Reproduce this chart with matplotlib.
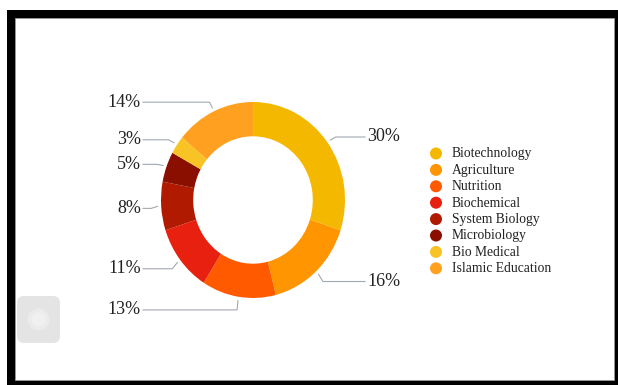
import numpy as np
import matplotlib
matplotlib.use("Agg")
import matplotlib.pyplot as plt
from matplotlib.patches import Rectangle, FancyBboxPatch, Circle

categories = ["Biotechnology", "Agriculture", "Nutrition", "Biochemical",
              "System Biology", "Microbiology", "Bio Medical", "Islamic Education"]
values = [30, 16, 13, 11, 8, 5, 3, 14]
labels = [f"{v}%" for v in values]
colors = ["#F5B800", "#FF9500", "#FF5A00", "#E8200F",
          "#B01A00", "#8B0F00", "#F7C325", "#FFA020"]

W, H = 618, 385
fig = plt.figure(figsize=(W / 100, H / 100), dpi=100)
fig.patch.set_facecolor("white")

# overlay axes in pixel coordinates
ov = fig.add_axes([0, 0, 1, 1])
ov.set_xlim(0, W)
ov.set_ylim(H, 0)
ov.axis("off")

# frame
ov.add_patch(Rectangle((7, 10), W - 7, H - 10, facecolor="black", edgecolor="none", zorder=0))
ov.add_patch(Rectangle((15, 18), 614 - 15, 380 - 18, facecolor="white",
                       edgecolor="#9a9a9a", linewidth=0.6, zorder=0.5))

# gray rounded button
ov.add_patch(FancyBboxPatch((17, 296), 43, 47, boxstyle="round,pad=0,rounding_size=7",
                            facecolor="#E4E4E4", edgecolor="none", zorder=1))
ov.add_patch(Circle((38.5, 319.5), 11, facecolor="#EBEBEB", edgecolor="none", zorder=1.1))
ov.add_patch(Circle((38.5, 319.5), 7, facecolor="#F0F0F0", edgecolor="none", zorder=1.2))

# pie axes
cx, cy, rx, ry = 253, 200, 92, 98
pax = fig.add_axes([(cx - rx) / W, 1 - (cy + ry) / H, 2 * rx / W, 2 * ry / H])
wedges, _ = pax.pie(values, colors=colors, startangle=90, counterclock=False,
                    radius=1.0, wedgeprops=dict(width=0.35, linewidth=0))
pax.set_aspect("auto")
pax.set_xlim(-1, 1)
pax.set_ylim(-1, 1)
pax.axis("off")

# leader lines and labels
label_font = dict(family="Liberation Serif", fontsize=13, color="#222222")
for w, lab in zip(wedges, labels):
    ang = np.deg2rad((w.theta1 + w.theta2) / 2)
    c, s = np.cos(ang), np.sin(ang)
    x0, y0 = cx + rx * 1.04 * c, cy - ry * 1.04 * s
    x1, y1 = cx + rx * 1.11 * c, cy - ry * 1.12 * s + 1.5
    if c >= 0:
        x2 = 365
        ov.text(x2 + 2, y1, lab, ha="left", va="center", **label_font)
    else:
        x2 = 143
        ov.text(x2 - 2, y1, lab, ha="right", va="center", **label_font)
    ov.plot([x0, x1, x2], [y0, y1, y1], color="#A3A9B0", lw=0.8, zorder=3)

# legend
ly0, dly = 154, 16.4
for i, (cat, col) in enumerate(zip(categories, colors)):
    y = ly0 + i * dly
    ov.add_patch(Circle((436, y - 0.5), 6, facecolor=col, edgecolor="none", zorder=3))
    ov.text(452, y, cat, ha="left", va="center", family="Liberation Serif",
            fontsize=9.8, color="#222222")

fig.savefig("out.png", dpi=100, facecolor="white")
